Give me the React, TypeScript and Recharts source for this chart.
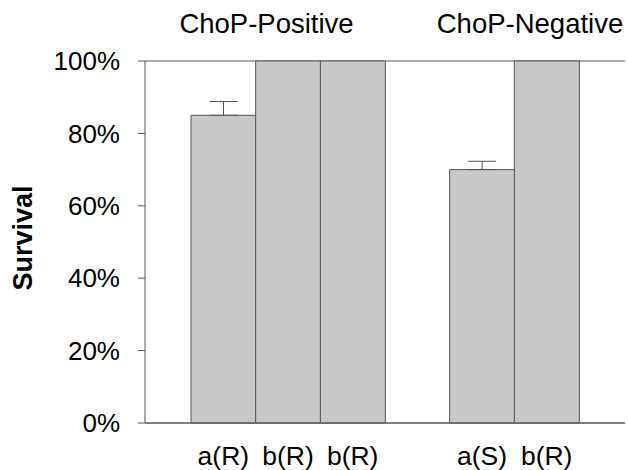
import React from "react";
import { BarChart, Bar, XAxis, YAxis, CartesianGrid, ErrorBar } from "recharts";

const categories = ["a(R)", "b(R)", "b(R)", "", "a(S)", "b(R)"];
const survival = [85, 100, 100, null, 70, 100];
const errors = [3.8, null, null, null, 2.3, null];
const groups = ["ChoP-Positive", "ChoP-Negative"];
const yTicks = [0, 20, 40, 60, 80, 100];

const data = categories.map((c, i) => ({
  id: i,
  label: c,
  value: survival[i],
  err: errors[i] == null ? undefined : [0, errors[i]],
}));

const LINE = "#555555";
const FONT = "'Liberation Sans', Arial, sans-serif";

const SurvivalLabel = (props: any) => {
  const vb = props.viewBox || { x: 0, y: 61, height: 362 };
  const x = vb.x + 32;
  const y = vb.y + vb.height / 2 - 4;
  return (
    <text
      x={x}
      y={y}
      transform={`rotate(-90, ${x}, ${y})`}
      textAnchor="middle"
      fontSize={27}
      fontWeight="bold"
      fill="#000"
      fontFamily={FONT}
    >
      Survival
    </text>
  );
};

if (typeof document !== "undefined") document.body.style.margin = "0";

const App = () => {
  return (
    <div style={{ position: "relative", width: 628, height: 470, background: "#fff", fontFamily: FONT }}>
      <BarChart
        width={628}
        height={470}
        data={data}
        margin={{ top: 61, right: 3, bottom: 0, left: 0 }}
        barCategoryGap={0}
      >
        <CartesianGrid vertical={false} stroke={LINE} strokeWidth={1} />
        <XAxis
          dataKey="id"
          type="category"
          tickFormatter={(v: number) => categories[v]}
          padding={{ left: 46, right: 46 }}
          height={47}
          tickLine={false}
          tickSize={0}
          tickMargin={23}
          axisLine={{ stroke: LINE }}
          tick={{ fill: "#000", fontSize: 26.5, fontFamily: FONT }}
          interval={0}
        />
        <YAxis
          yAxisId="left"
          domain={[0, 100]}
          ticks={yTicks}
          tickFormatter={(v: number) => `${v}%`}
          width={145}
          tickSize={7}
          tickMargin={18}
          axisLine={{ stroke: LINE }}
          tickLine={{ stroke: LINE }}
          tick={{ fill: "#000", fontSize: 26, fontFamily: FONT }}
          label={<SurvivalLabel />}
        />
        <YAxis
          yAxisId="right"
          orientation="right"
          domain={[0, 100]}
          width={0}
          tick={false}
          tickLine={false}
          axisLine={{ stroke: LINE }}
        />
        <Bar
          yAxisId="left"
          dataKey="value"
          fill="#c8c8c8"
          stroke={LINE}
          strokeWidth={1}
          isAnimationActive={false}
        >
          <ErrorBar dataKey="err" width={14} stroke={LINE} strokeWidth={1} direction="y" />
        </Bar>
      </BarChart>
      <svg
        width={628}
        height={60}
        style={{ position: "absolute", left: 0, top: 0, pointerEvents: "none" }}
      >
        <text x={266.5} y={33} textAnchor="middle" fontSize={27.5} fill="#000" fontFamily={FONT}>
          {groups[0]}
        </text>
        <text x={530} y={33} textAnchor="middle" fontSize={27.5} fill="#000" fontFamily={FONT}>
          {groups[1]}
        </text>
      </svg>
    </div>
  );
};

export default App;
